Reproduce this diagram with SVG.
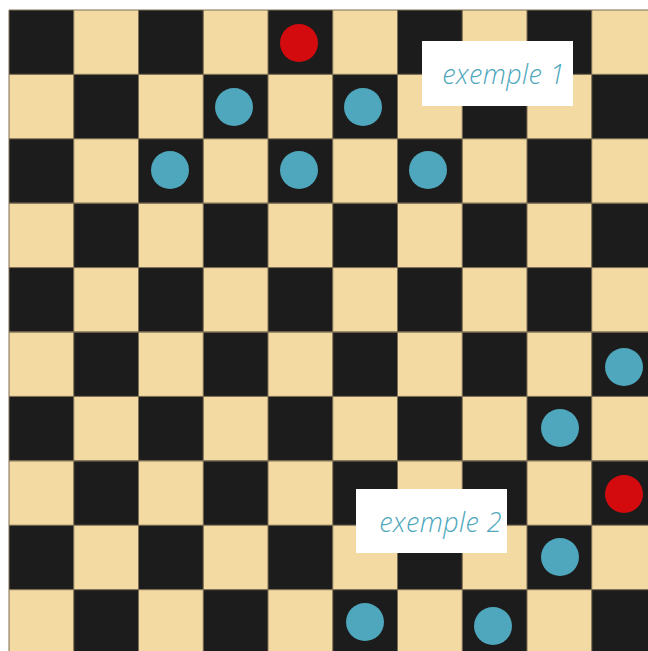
<svg xmlns="http://www.w3.org/2000/svg" width="648" height="651" viewBox="0 0 648 651">
  <style>
    .blue { fill: #4ea7bc; }
    .red { fill: #d40b0e; }
    .grid { stroke: #7d6f55; stroke-width: 1; }
    .lbl { fill: #ffffff; }
    .txt { font-family: "Open Sans", "Liberation Sans", sans-serif; font-style: italic; font-weight: 300; font-size: 27px; letter-spacing: 0.4px; fill: #4ea7bc; }
  </style>
  <defs>
    <pattern id="board" patternUnits="userSpaceOnUse" x="9" y="10" width="129.5" height="128.8">
      <rect x="0" y="0" width="129.5" height="128.8" fill="#f3d9a2"/>
      <rect x="0" y="0" width="64.75" height="64.4" fill="#1d1c1c"/>
      <rect x="64.75" y="64.4" width="64.75" height="64.4" fill="#1d1c1c"/>
    </pattern>
  </defs>
  <rect width="648" height="651" fill="#ffffff"/>
  <g id="board-squares">
    <rect x="9" y="10" width="639" height="641" fill="url(#board)"/>
  </g>
  <g id="grid-lines" class="grid">
    <line x1="9" y1="10" x2="9" y2="651"/>
    <line x1="73.75" y1="10" x2="73.75" y2="651"/>
    <line x1="138.5" y1="10" x2="138.5" y2="651"/>
    <line x1="203.25" y1="10" x2="203.25" y2="651"/>
    <line x1="268" y1="10" x2="268" y2="651"/>
    <line x1="332.75" y1="10" x2="332.75" y2="651"/>
    <line x1="397.5" y1="10" x2="397.5" y2="651"/>
    <line x1="462.25" y1="10" x2="462.25" y2="651"/>
    <line x1="527" y1="10" x2="527" y2="651"/>
    <line x1="591.75" y1="10" x2="591.75" y2="651"/>
    <line x1="9" y1="10" x2="648" y2="10"/>
    <line x1="9" y1="74.4" x2="648" y2="74.4"/>
    <line x1="9" y1="138.8" x2="648" y2="138.8"/>
    <line x1="9" y1="203.2" x2="648" y2="203.2"/>
    <line x1="9" y1="267.6" x2="648" y2="267.6"/>
    <line x1="9" y1="332" x2="648" y2="332"/>
    <line x1="9" y1="396.4" x2="648" y2="396.4"/>
    <line x1="9" y1="460.8" x2="648" y2="460.8"/>
    <line x1="9" y1="525.2" x2="648" y2="525.2"/>
    <line x1="9" y1="589.6" x2="648" y2="589.6"/>
  </g>
  <g id="piece-red-1"><circle class="red" cx="299" cy="43" r="19"/></g>
  <g id="piece-blue-1"><circle class="blue" cx="234" cy="107" r="19"/></g>
  <g id="piece-blue-2"><circle class="blue" cx="363" cy="107" r="19"/></g>
  <g id="piece-blue-3"><circle class="blue" cx="170" cy="170" r="19"/></g>
  <g id="piece-blue-4"><circle class="blue" cx="299" cy="170" r="19"/></g>
  <g id="piece-blue-5"><circle class="blue" cx="428" cy="170" r="19"/></g>
  <g id="piece-blue-6"><circle class="blue" cx="624" cy="367" r="19"/></g>
  <g id="piece-blue-7"><circle class="blue" cx="560" cy="428" r="19"/></g>
  <g id="piece-red-2"><circle class="red" cx="624" cy="494" r="19"/></g>
  <g id="piece-blue-8"><circle class="blue" cx="560" cy="557" r="19"/></g>
  <g id="piece-blue-9"><circle class="blue" cx="365" cy="622" r="19"/></g>
  <g id="piece-blue-10"><circle class="blue" cx="493" cy="626" r="19"/></g>
  <g id="label-exemple-1">
    <rect class="lbl" x="422" y="41" width="151" height="65"/>
    <text class="txt" x="565" y="84" text-anchor="end">exemple 1</text>
  </g>
  <g id="label-exemple-2">
    <rect class="lbl" x="356" y="489" width="151" height="64"/>
    <text class="txt" x="502" y="532" text-anchor="end">exemple 2</text>
  </g>
</svg>
